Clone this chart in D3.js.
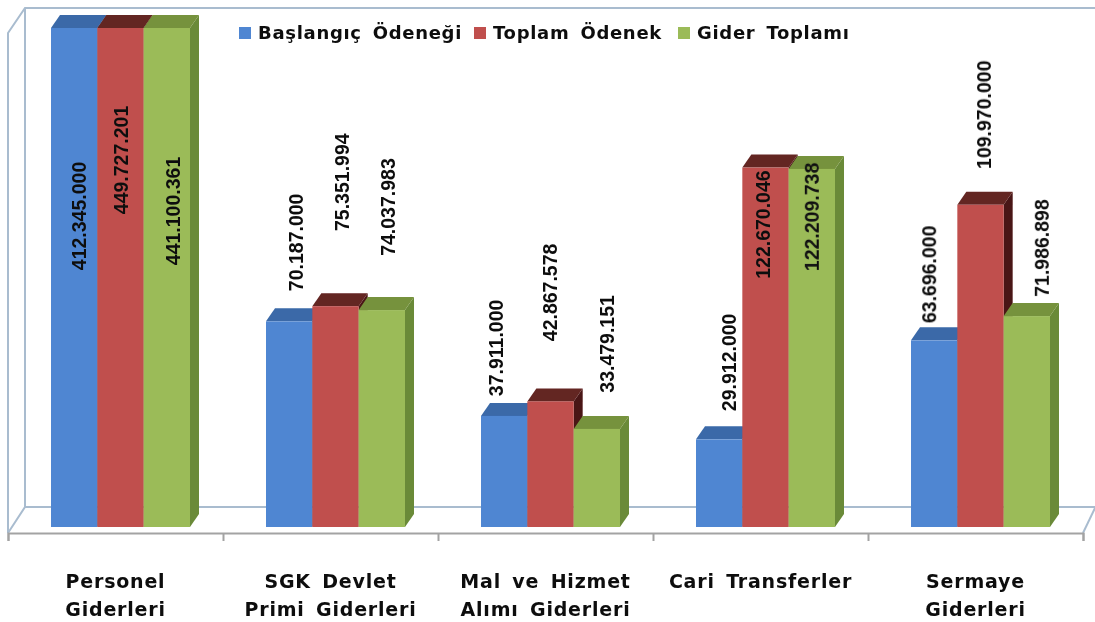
<!DOCTYPE html>
<html lang="tr">
<head>
<meta charset="utf-8">
<title>Giderler</title>
<script src="https://cdn.jsdelivr.net/npm/d3@7"></script>
<style>
html, body { margin: 0; background: #fff; }
svg { display: block; }
text { font-family: "DejaVu Sans", sans-serif; font-weight: bold; fill: #111; }
text.value { font-family: "Liberation Sans", sans-serif; }
</style>
</head>
<body>
<script>
var categories = [["Personel", "Giderleri"], ["SGK Devlet", "Primi Giderleri"], ["Mal ve Hizmet", "Alımı Giderleri"], ["Cari Transferler"], ["Sermaye", "Giderleri"]];
var seriesNames = ["Başlangıç Ödeneği", "Toplam Ödenek", "Gider Toplamı"];
var baslangic = [412345000, 70187000, 37911000, 29912000, 63696000];
var toplam = [449727201, 75351994, 42867578, 122670046, 109970000];
var gider = [441100361, 74037983, 33479151, 122209738, 71986898];
var seriesValues = [baslangic, toplam, gider];

var w = 1095, h = 622;
var depthX = 9, depthY = 13;
var colors = [
    {front: "#4f86d2", top: "#3a69a8", side: "#2f5a94"},
    {front: "#c0504d", top: "#632523", side: "#4a1513"},
    {front: "#9bbb59", top: "#76923c", side: "#6a8a38"}
];
// hand placement of the value labels, per category then series: [dx, dy] from bar centre / bar top
var labelNudge = [
    [[5, 188], [0.5, 132], [6, 183]],
    [[7, -79], [6.5, -124], [6, -103]],
    [[-8, -68], [-0.5, -109], [10, -85]],
    [[10, -77], [-2.5, 57], [0, 48]],
    [[-5, -66], [3.5, -90], [15, -68]]
];

var page = d3.select("body").append("svg").attr("width", w).attr("height", h);

// the source picture is a soft, upscaled image
page.append("defs").append("filter")
    .attr("id", "soft")
    .attr("filterUnits", "userSpaceOnUse")
    .attr("x", 0).attr("y", 0).attr("width", w).attr("height", h)
  .append("feGaussianBlur")
    .attr("stdDeviation", 0.5);

var svg = page.append("g").attr("filter", "url(#soft)");

var x0 = d3.scaleBand().domain(d3.range(categories.length)).range([8, 1083]);
var x1 = d3.scaleBand().domain(d3.range(seriesNames.length)).range([43, 182]);
var y = d3.scaleLinear().domain([0, 170300000]).range([527, 28]).clamp(true);
var xTicks = d3.scaleLinear().domain([0, categories.length]).range([8, 1083]);

// walls and floor
var wall = "#a9bccf";
var walls = [
    [[8, 533], [8, 33], [25, 8], [1095, 8]],
    [[25, 8], [25, 507]],
    [[8, 533], [25, 507], [1095, 507]],
    [[1083, 533], [1095, 508]]
];
svg.selectAll("path.wall").data(walls).enter().append("path")
    .attr("class", "wall")
    .attr("d", d3.line())
    .attr("fill", "none")
    .attr("stroke", wall)
    .attr("stroke-width", 2);

// category axis, ticks sit on the group boundaries
var axis = d3.axisBottom(xTicks).ticks(categories.length).tickFormat("").tickSize(8).tickSizeOuter(8);
var axisG = svg.append("g").attr("transform", "translate(0,533)").call(axis);
axisG.selectAll("path, line").attr("stroke", "#a3a3a3").attr("stroke-width", 2);

// bars
var groups = svg.selectAll("g.group").data(categories).enter().append("g")
    .attr("class", "group")
    .attr("transform", function(d, i) { return "translate(" + x0(i) + ",0)"; });

seriesNames.forEach(function(name, s) {
    var bw = x1.bandwidth();
    var bar = groups.append("g");
    var top = function(i) { return y(seriesValues[s][i]); };
    var left = x1(s);
    bar.append("path")
        .attr("fill", colors[s].side)
        .attr("d", function(d, i) {
            var r = left + bw;
            return d3.line()([[r, y(0)], [r + depthX, y(0) - depthY], [r + depthX, top(i) - depthY], [r, top(i)]]) + "Z";
        });
    bar.append("path")
        .attr("fill", colors[s].top)
        .attr("d", function(d, i) {
            var t = top(i);
            return d3.line()([[left, t], [left + depthX, t - depthY], [left + bw + depthX, t - depthY], [left + bw, t]]) + "Z";
        });
    bar.append("rect")
        .attr("fill", colors[s].front)
        .attr("x", left)
        .attr("width", bw)
        .attr("y", function(d, i) { return top(i); })
        .attr("height", function(d, i) { return y(0) - top(i); });
});

// value labels go over all bars
var fmt = function(v) { return d3.format(",")(v).replace(/,/g, "."); };
seriesNames.forEach(function(name, s) {
    groups.append("text")
        .attr("class", "value")
        .attr("text-anchor", "middle")
        .attr("dominant-baseline", "central")
        .attr("font-size", 19.5)
        .attr("transform", function(d, i) {
            var n = labelNudge[i][s];
            var cx = x1(s) + x1.bandwidth() / 2 + n[0];
            return "translate(" + cx + "," + (y(seriesValues[s][i]) + n[1]) + ") rotate(-90)";
        })
        .text(function(d, i) { return fmt(seriesValues[s][i]); });
});

// category labels
var catText = svg.selectAll("text.cat").data(categories).enter().append("text")
    .attr("class", "cat")
    .attr("text-anchor", "middle")
    .attr("font-size", 19)
    .attr("letter-spacing", 0.8)
    .attr("word-spacing", 4)
    .attr("transform", function(d, i) { return "translate(" + (x0(i) + x0.bandwidth() / 2) + ",588)"; });
catText.selectAll("tspan").data(function(d) { return d; }).enter().append("tspan")
    .attr("x", 0)
    .attr("y", function(d, i) { return i * 28; })
    .text(function(d) { return d; });

// legend
var legendX = d3.scaleOrdinal().domain(seriesNames).range([239, 474, 678]);
var legend = svg.selectAll("g.legend").data(seriesNames).enter().append("g")
    .attr("class", "legend")
    .attr("transform", function(d) { return "translate(" + legendX(d) + ",27)"; });
legend.append("rect")
    .attr("width", 12).attr("height", 12)
    .attr("fill", function(d, i) { return colors[i].front; });
legend.append("text")
    .attr("x", 19).attr("y", 12)
    .attr("font-size", 18)
    .attr("letter-spacing", 0.7)
    .attr("word-spacing", 4)
    .text(function(d) { return d; });
</script>
</body>
</html>
